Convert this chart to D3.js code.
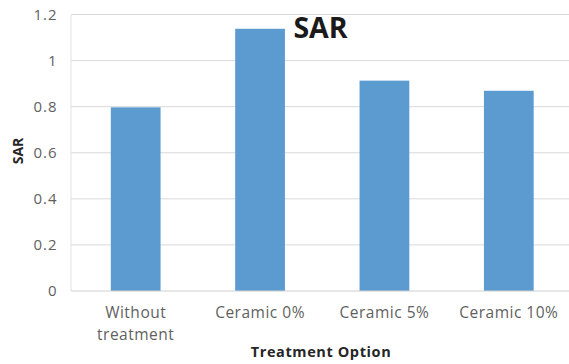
<!DOCTYPE html>
<html>
<head>
<meta charset="utf-8">
<script src="https://cdn.jsdelivr.net/npm/d3@7"></script>
<style>
  html, body { margin: 0; padding: 0; background: #fff; }
  svg { display: block; }
</style>
</head>
<body>
<svg id="chart" width="569" height="364"></svg>
<script>
// SAR per treatment option
const categories = [["Without", "treatment"], ["Ceramic 0%"], ["Ceramic 5%"], ["Ceramic 10%"]];
const sarValues = [0.797, 1.138, 0.913, 0.869];
const yTicks = [0, 0.2, 0.4, 0.6, 0.8, 1, 1.2];

const svg = d3.select("#chart");
const font = "'Open Sans', 'Noto Sans', sans-serif";

const x = d3.scaleBand()
  .domain(categories.map((d, i) => i))
  .range([73.5, 571])
  .paddingInner(0.6)
  .paddingOuter(0.3);

const y = d3.scaleLinear().domain([0, 1.2]).range([291, 14.5]);

// gridlines
svg.append("g")
  .selectAll("line")
  .data(yTicks.filter(t => t > 0))
  .join("line")
  .attr("x1", 71).attr("x2", 571)
  .attr("y1", d => y(d)).attr("y2", d => y(d))
  .attr("stroke", "#d9d9d9").attr("stroke-width", 1);

// vertical axis line
svg.append("line")
  .attr("x1", 71).attr("x2", 71)
  .attr("y1", y(1.2)).attr("y2", y(0))
  .attr("stroke", "#e2e2e2").attr("stroke-width", 1);

// y axis labels
const yAxis = d3.axisLeft(y).tickValues(yTicks).tickFormat(d => d3.format("~g")(d)).tickSize(0).tickPadding(16);
const yg = svg.append("g").attr("transform", "translate(73.5,0)").call(yAxis);
yg.select(".domain").remove();
yg.selectAll("text")
  .attr("font-family", font).attr("font-size", 15).attr("letter-spacing", 1)
  .attr("fill", "#5f5f5f");

// bars
svg.append("g")
  .selectAll("rect")
  .data(sarValues)
  .join("rect")
  .attr("x", (d, i) => x(i))
  .attr("y", d => y(d))
  .attr("width", x.bandwidth())
  .attr("height", d => y(0) - y(d))
  .attr("fill", "#5b9bcf");

// x axis baseline
svg.append("line")
  .attr("x1", 71).attr("x2", 571)
  .attr("y1", y(0)).attr("y2", y(0))
  .attr("stroke", "#d0d0d0").attr("stroke-width", 1.2);

// category labels
const xl = svg.append("g")
  .selectAll("text")
  .data(categories)
  .join("text")
  .attr("x", (d, i) => x(i) + x.bandwidth() / 2)
  .attr("y", 318)
  .attr("text-anchor", "middle")
  .attr("font-family", font).attr("font-size", 15.5).attr("letter-spacing", 0.5)
  .attr("fill", "#5f5f5f");
xl.selectAll("tspan")
  .data(d => d)
  .join("tspan")
  .attr("x", function() { return d3.select(this.parentNode).attr("x"); })
  .attr("dy", (d, i) => i === 0 ? 0 : 22)
  .text(d => d);

// axis titles
svg.append("text")
  .attr("x", 321).attr("y", 357)
  .attr("text-anchor", "middle")
  .attr("font-family", font).attr("font-size", 14.5).attr("font-weight", "bold")
  .attr("letter-spacing", 0.6).attr("fill", "#262626")
  .text("Treatment Option");

svg.append("text")
  .attr("transform", "translate(23,151) rotate(-90)")
  .attr("text-anchor", "middle")
  .attr("font-family", font).attr("font-size", 14).attr("font-weight", "bold").attr("fill", "#262626")
  .text("SAR");

// chart title
svg.append("text")
  .attr("x", 320.5).attr("y", 38)
  .attr("text-anchor", "middle")
  .attr("font-family", font).attr("font-size", 28.5).attr("font-weight", "bold").attr("fill", "#1a1a1a")
  .text("SAR");
</script>
</body>
</html>
